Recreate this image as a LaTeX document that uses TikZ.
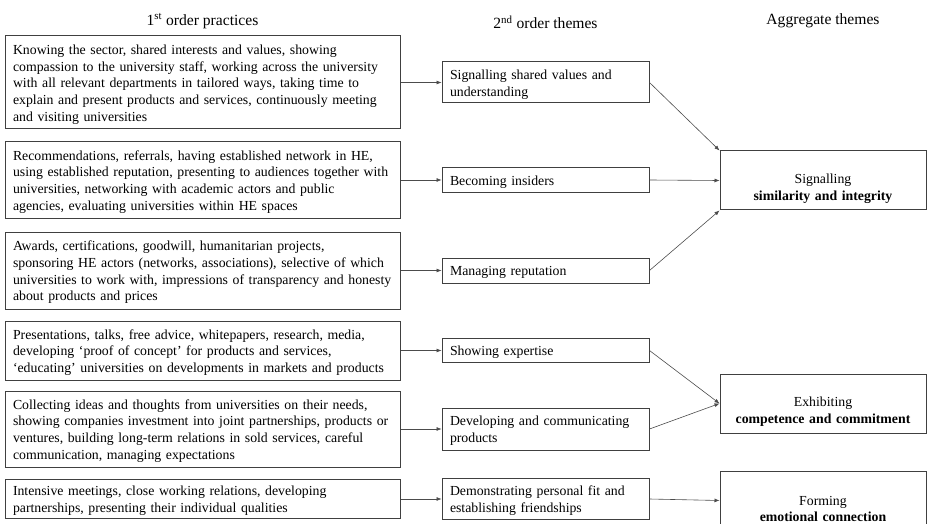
\documentclass[tikz,border=0pt]{standalone}
\usepackage{fontspec}
\setmainfont{Liberation Serif}
\usetikzlibrary{arrows.meta}

\begin{document}
\begin{tikzpicture}[auto, x=1pt, y=-1pt,
    font=\fontsize{13.8}{16.7}\selectfont,
    heading/.style ={font=\fontsize{15.6}{18}\selectfont},
    practice/.style ={rectangle, draw=black!75, line width=1pt, inner xsep=8pt, inner ysep=0pt, text width=379pt, align=left,
        execute at begin node={\rule{0pt}{13.4pt}}},
    theme/.style ={rectangle, draw=black!75, line width=1pt, inner xsep=8pt, inner ysep=0pt, text width=191pt, align=left,
        execute at begin node={\rule{0pt}{13.4pt}}},
    aggregate/.style ={rectangle, draw=black!75, line width=1pt, inner xsep=8pt, inner ysep=0pt, text width=190pt, align=center, minimum height=59pt,
        execute at begin node={\rule{0pt}{26pt}}},
    link/.style ={draw=black!70, line width=0.6pt, -{Latex[length=5pt,width=4pt]}}]
   \useasboundingbox (0,0) rectangle (927,524);

   % column headings
   \node[heading] (H1) at (202.5,21) {1\textsuperscript{st} order practices};
   \node[heading] (H2) at (545.5,22) {2\textsuperscript{nd} order themes};
   \node[heading] (H3) at (823,21) {Aggregate themes};

   % 1st order practices
   \node[practice, minimum height=93pt] (P1) at (202.5,82.5) {Knowing the sector, shared interests and values, showing\\compassion to the university staff, working across the university\\with all relevant departments in tailored ways, taking time to\\explain and present products and services, continuously meeting\\and visiting universities};
   \node[practice, minimum height=76pt] (P2) at (202.5,180) {Recommendations, referrals, having established network in HE,\\using established reputation, presenting to audiences together with\\universities, networking with academic actors and public\\agencies, evaluating universities within HE spaces};
   \node[practice, minimum height=77pt] (P3) at (202.5,270.5) {Awards, certifications, goodwill, humanitarian projects,\\sponsoring HE actors (networks, associations), selective of which\\universities to work with, impressions of transparency and honesty\\about products and prices};
   \node[practice, minimum height=59pt] (P4) at (202.5,350.5) {Presentations, talks, free advice, whitepapers, research, media,\\developing `proof of concept' for products and services,\\`educating' universities on developments in markets and products};
   \node[practice, minimum height=76pt] (P5) at (202.5,429) {Collecting ideas and thoughts from universities on their needs,\\showing companies investment into joint partnerships, products or\\ventures, building long-term relations in sold services, careful\\communication, managing expectations};
   \node[practice, minimum height=39pt] (P6) at (202.5,499) {Intensive meetings, close working relations, developing\\partnerships, presenting their individual qualities};

   % 2nd order themes
   \node[theme, minimum height=41pt] (T1) at (545.5,82.5) {Signalling shared values and\\understanding};
   \node[theme, minimum height=25pt] (T2) at (545.5,180) {Becoming insiders};
   \node[theme, minimum height=25pt] (T3) at (545.5,270.5) {Managing reputation};
   \node[theme, minimum height=24pt] (T4) at (545.5,350.5) {Showing expertise};
   \node[theme, minimum height=42pt] (T5) at (545.5,429) {Developing and communicating\\products};
   \node[theme, minimum height=41pt] (T6) at (545.5,499) {Demonstrating personal fit and\\establishing friendships};

   % aggregate themes
   \node[aggregate] (A1) at (823,180.5) {Signalling\\\textbf{similarity and integrity}};
   \node[aggregate] (A2) at (823,403.5) {Exhibiting\\\textbf{competence and commitment}};
   \node[aggregate] (A3) at (823,500.5) {Forming\\\textbf{emotional connection}};

   \draw[link] (P1) to (T1);
   \draw[link] (P2) to (T2);
   \draw[link] (P3) to (T3);
   \draw[link] (P4) to (T4);
   \draw[link] (P5) to (T5);
   \draw[link] (P6) to (T6);
   \draw[link] (T1.east) to (A1.north west);
   \draw[link] (T2.east) to (A1.west);
   \draw[link] (T3.east) to (A1.south west);
   \draw[link] (T4.east) to (A2.west);
   \draw[link] (T5.east) to (A2.west);
   \draw[link] (T6.east) to (A3.west);
 \end{tikzpicture}
\end{document}
